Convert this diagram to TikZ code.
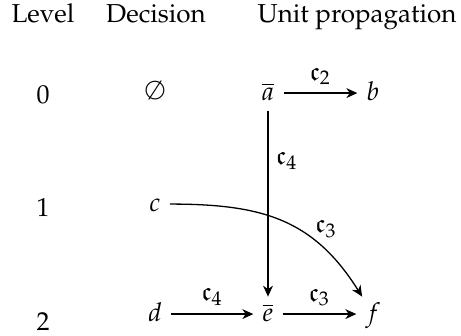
\documentclass[tikz,border=0pt]{standalone}
\usepackage[T1]{fontenc}
\usepackage{mathpazo}
\usepackage{amssymb}
\usetikzlibrary{arrows.meta}
\tikzset{
  vtx/.style={anchor=base, inner xsep=3.4pt, inner ysep=2.3pt, text height=1.55ex, text depth=0.25ex},
  hdr/.style={anchor=base, inner sep=0pt},
  lvl/.style={inner sep=0pt},
  edge/.style={-{Stealth[length=4.2pt,width=3.8pt,inset=1.3pt]}, line width=0.5pt},
  lab/.style={inner sep=2.9pt}
}
\begin{document}
\begin{tikzpicture}[x=0.385pt,y=-0.385pt]
\useasboundingbox (0,0) rectangle (461,336);
\node[hdr] (hl) at (43,23) {Level};
\node[hdr] (hd) at (156,23) {Decision};
\node[hdr] (hu) at (357,23) {Unit propagation};
\node[lvl] (l0) at (43,95) {0};
\node[lvl] (l1) at (43,208) {1};
\node[lvl] (l2) at (43,322) {2};
\node[vtx] (dz) at (155,100) {$\emptyset$};
\node[vtx] (a) at (268,101) {$\overline{a}$};
\node[vtx] (b) at (373,101) {$b$};
\node[vtx] (c) at (155,212) {$c$};
\node[vtx] (d) at (155,322) {$d$};
\node[vtx] (e) at (268,322) {$\overline{e}$};
\node[vtx] (f) at (373,322) {$f$};
\draw[edge] (a) -- node[lab, above] {$\mathfrak{c}_2$} (b);
\draw[edge] (a) -- node[lab, right, pos=0.27] {$\mathfrak{c}_4$} (e);
\draw[edge] (d) -- node[lab, above] {$\mathfrak{c}_4$} (e);
\draw[edge] (e) -- node[lab, above] {$\mathfrak{c}_3$} (f);
\draw[edge] (c) to[out=0, in=122, looseness=1.1] node[above right, inner sep=0.6pt, pos=0.68] {$\mathfrak{c}_3$} (f);
\end{tikzpicture}
\end{document}
